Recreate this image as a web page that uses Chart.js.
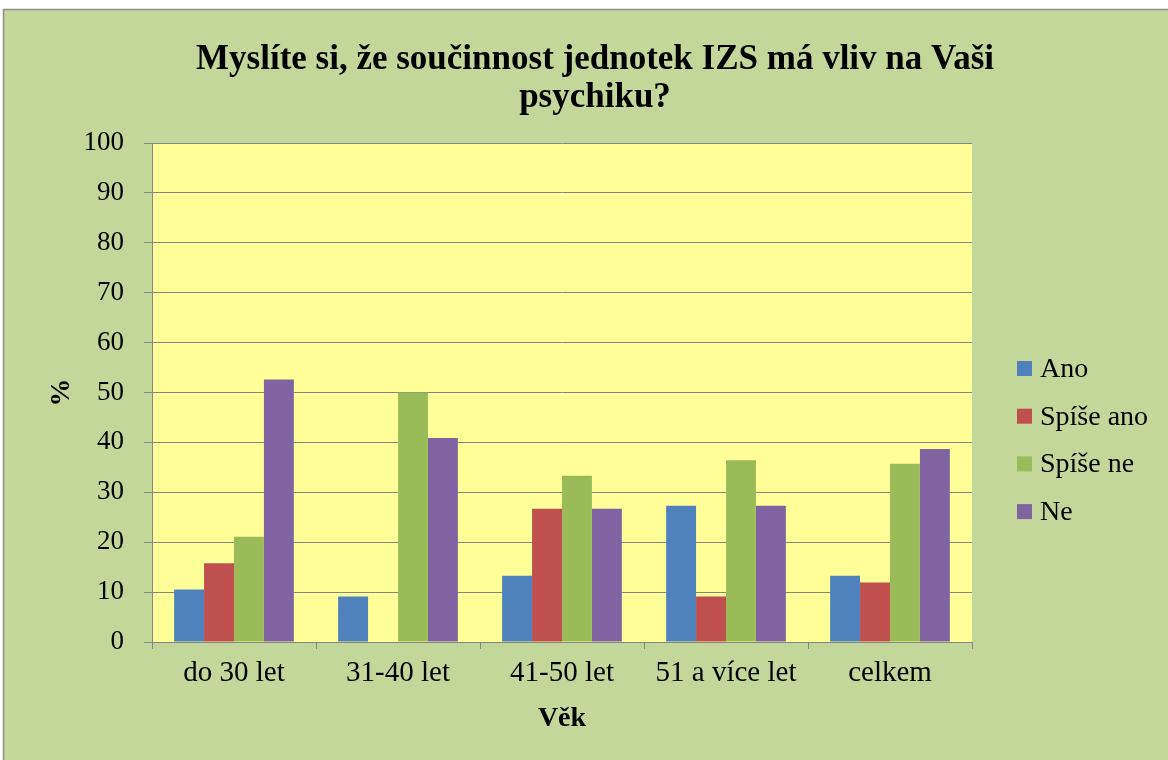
<!DOCTYPE html>
<html>
<head>
<meta charset="utf-8">
<script src="https://cdn.jsdelivr.net/npm/chart.js@4.4.0/dist/chart.umd.min.js"></script>
<style>
  html, body { margin: 0; padding: 0; background: #ffffff; }
  #wrap { position: relative; width: 1168px; height: 760px; }
</style>
</head>
<body>
<div id="wrap"><canvas id="chart"></canvas></div>
<script>
// === Data ===
const categories = ['do 30 let', '31-40 let', '41-50 let', '51 a více let', 'celkem'];
const seriesNames = ['Ano', 'Spíše ano', 'Spíše ne', 'Ne'];
const ano = [10.5, 9.1, 13.3, 27.3, 13.3];
const spiseAno = [15.8, 0, 26.7, 9.1, 11.9];
const spiseNe = [21.1, 50.0, 33.3, 36.4, 35.7];
const ne = [52.6, 40.9, 26.7, 27.3, 38.7];
const yTicks = [0, 10, 20, 30, 40, 50, 60, 70, 80, 90, 100];
const titleLines = ['Myslíte si, že součinnost jednotek IZS má vliv na Vaši', 'psychiku?'];
const xTitle = 'Věk';
const yTitle = '%';

const colors = ['#4f81bd', '#c0504d', '#9bbb59', '#8064a2'];
const FONT = "'Liberation Serif', 'Times New Roman', serif";

// === Background, frame, title and legend ===
const framePlugin = {
  id: 'frame',
  beforeDraw(chart) {
    const ctx = chart.ctx;
    const a = chart.chartArea;
    ctx.save();
    ctx.fillStyle = '#ffffff';
    ctx.fillRect(0, 0, chart.width, chart.height);
    ctx.fillStyle = '#c4d79b';
    ctx.fillRect(3, 9, chart.width - 3, chart.height - 9);
    ctx.strokeStyle = '#8c8c8c';
    ctx.lineWidth = 1.5;
    ctx.beginPath();
    ctx.moveTo(3.5, chart.height);
    ctx.lineTo(3.5, 9.5);
    ctx.lineTo(chart.width, 9.5);
    ctx.stroke();
    ctx.fillStyle = '#ffff99';
    ctx.fillRect(a.left, a.top, a.right - a.left, a.bottom - a.top);
    ctx.restore();
  },
  afterDraw(chart) {
    const ctx = chart.ctx;
    ctx.save();
    // title
    ctx.fillStyle = '#000000';
    ctx.font = "bold 35px " + FONT;
    ctx.textAlign = 'center';
    ctx.textBaseline = 'middle';
    titleLines.forEach((line, i) => ctx.fillText(line, 595, 60 + i * 38));
    // legend
    ctx.font = "28px " + FONT;
    ctx.textAlign = 'left';
    chart.data.datasets.forEach((ds, i) => {
      const cy = 368.5 + i * 47.7;
      ctx.fillStyle = ds.backgroundColor;
      ctx.fillRect(1017, cy - 7.5, 15, 15);
      ctx.fillStyle = '#000000';
      ctx.fillText(ds.label, 1040, cy + 1);
    });
    ctx.restore();
  }
};

const seriesData = [ano, spiseAno, spiseNe, ne];

new Chart(document.getElementById('chart'), {
  type: 'bar',
  data: {
    labels: categories,
    datasets: seriesNames.map((name, i) => ({
      label: name,
      data: seriesData[i],
      backgroundColor: colors[i],
      borderWidth: 0,
      categoryPercentage: 0.73,
      barPercentage: 1.0
    }))
  },
  options: {
    responsive: true,
    maintainAspectRatio: false,
    animation: false,
    layout: { padding: { top: 143, right: 196, bottom: 0, left: 0 } },
    plugins: {
      legend: { display: false },
      title: { display: false },
      tooltip: { enabled: false }
    },
    scales: {
      x: {
        grid: {
          offset: true,
          drawOnChartArea: false,
          drawTicks: true,
          tickLength: 7,
          color: '#868686'
        },
        border: { color: '#868686', width: 1 },
        ticks: {
          color: '#000000',
          font: { family: FONT, size: 29 },
          padding: 7,
          maxRotation: 0
        },
        title: {
          display: true,
          text: xTitle,
          color: '#000000',
          font: { family: FONT, size: 28, weight: 'bold' },
          padding: { top: 0, bottom: 24 }
        },
        afterFit(scale) { scale.height = 118; }
      },
      y: {
        min: yTicks[0],
        max: yTicks[yTicks.length - 1],
        ticks: {
          stepSize: yTicks[1] - yTicks[0],
          color: '#000000',
          font: { family: FONT, size: 27 },
          padding: 20
        },
        grid: {
          color: '#868686',
          lineWidth: 1,
          tickLength: 8
        },
        border: { color: '#868686', width: 1 },
        title: {
          display: true,
          text: yTitle,
          color: '#000000',
          font: { family: FONT, size: 28, weight: 'bold' },
          padding: { top: 45, bottom: 0 }
        },
        afterFit(scale) { scale.width = 152; }
      }
    }
  },
  plugins: [framePlugin]
});
</script>
</body>
</html>
